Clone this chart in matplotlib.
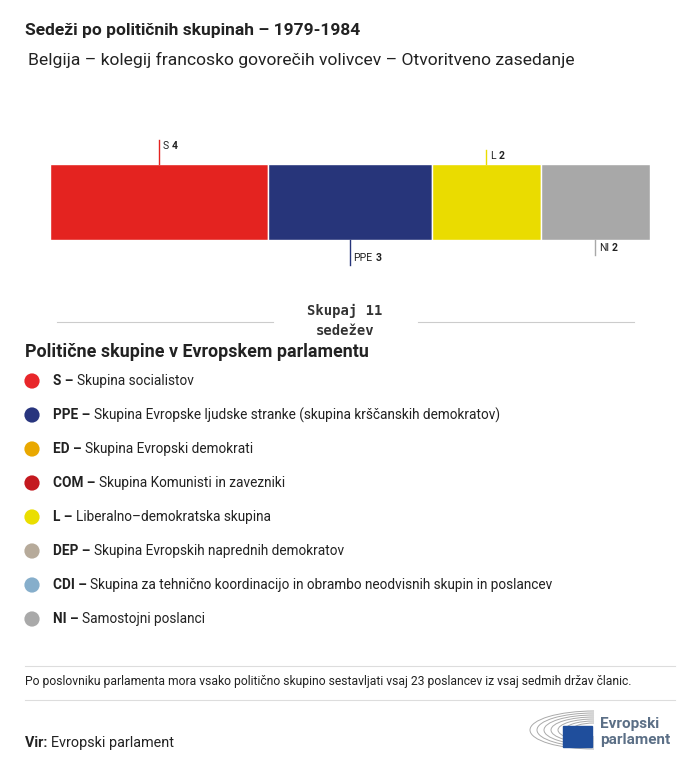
import matplotlib.pyplot as plt
from matplotlib.patches import Rectangle, Arc
import numpy as np

plt.rcParams['font.family'] = ['Roboto', 'DejaVu Sans']

# seats in the bar
groups = ['S', 'PPE', 'L', 'NI']
seats = [4, 3, 2, 2]
bar_colors = ['#E42320', '#27357A', '#EADC00', '#A8A8A8']

# legend
leg_codes = ['S', 'PPE', 'ED', 'COM', 'L', 'DEP', 'CDI', 'NI']
leg_names = ['Skupina socialistov',
             'Skupina Evropske ljudske stranke (skupina krščanskih demokratov)',
             'Skupina Evropski demokrati',
             'Skupina Komunisti in zavezniki',
             'Liberalno–demokratska skupina',
             'Skupina Evropskih naprednih demokratov',
             'Skupina za tehnično koordinacijo in obrambo neodvisnih skupin in poslancev',
             'Samostojni poslanci']
leg_colors = ['#E8262A', '#28357E', '#E9A800', '#C4191F', '#EADE00', '#B6AA9A', '#86AECB', '#A9A9A9']

W, H = 700, 768
fig = plt.figure(figsize=(7, 7.68), dpi=100)

# overlay axes in pixel coordinates for the text layout
ax0 = fig.add_axes([0, 0, 1, 1])
ax0.set_xlim(0, W)
ax0.set_ylim(H, 0)
ax0.axis('off')


def pair(ax, x, y, bold, normal, fs, col='#222222'):
    # bold part followed by normal part
    t = ax.text(x, y, bold, fontsize=fs, fontweight='bold', va='center', color=col)
    fig.canvas.draw()
    x1 = t.get_window_extent().x1
    xd = ax.transData.inverted().transform((x1, 0))[0]
    ax.text(xd, y, normal, fontsize=fs, va='center', color=col)


ax0.text(25, 30, 'Sedeži po političnih skupinah – 1979-1984', fontsize=12.5, fontweight='bold',
         va='center', color='#222222')
ax0.text(28, 60, 'Belgija – kolegij francosko govorečih volivcev – Otvoritveno zasedanje',
         fontsize=12.6, va='center', color='#222222')

# bar chart
ax = fig.add_axes([50 / W, 1 - 240 / H, 600 / W, 76 / H])
total = sum(seats)
left = np.cumsum([0] + seats[:-1])
ax.barh(0.5, seats, left=left, height=1, color=bar_colors, edgecolor='white', linewidth=1)
ax.set_xlim(0, total)
ax.set_ylim(0, 1)
ax.axis('off')

px = 1 / 76.0
lens = [24, 25, 14, 15]
for i, (g, n) in enumerate(zip(groups, seats)):
    xc = left[i] + n / 2
    L = lens[i] * px
    if i % 2 == 0:
        ax.plot([xc, xc], [1, 1 + L], color=bar_colors[i], lw=1, clip_on=False)
        ty = 1 + L - 6 * px
    else:
        ax.plot([xc, xc], [0, -L], color=bar_colors[i], lw=1, clip_on=False)
        ty = -L + 7 * px
    t = ax.text(xc + 0.06, ty, g, fontsize=7.5, va='center', ha='left', color='#222222')
    fig.canvas.draw()
    x1 = t.get_window_extent().x1 + 3
    xd = ax.transData.inverted().transform((x1, 0))[0]
    ax.text(xd, ty, str(n), fontsize=7.5, fontweight='bold', va='center', ha='left',
            color='#222222')

# total
ax0.plot([57, 273], [322, 322], color='#CCCCCC', lw=0.8)
ax0.plot([418, 634], [322, 322], color='#CCCCCC', lw=0.8)
ax0.text(345, 311, 'Skupaj 11', family='DejaVu Sans Mono', fontweight='bold', fontsize=10,
         ha='center', va='center', color='#333333')
ax0.text(345, 331, 'sedežev', family='DejaVu Sans Mono', fontweight='bold', fontsize=10,
         ha='center', va='center', color='#333333')

ax0.text(25, 352, 'Politične skupine v Evropskem parlamentu', fontsize=12.9, fontweight='bold',
         va='center', color='#222222')

y0, dy = 381, 34
for i, (c, nm, col) in enumerate(zip(leg_codes, leg_names, leg_colors)):
    y = y0 + i * dy
    ax0.scatter([32], [y], s=120, color=col, edgecolors='none')
    pair(ax0, 53, y, c + ' – ', nm, 9.85)

# footer
ax0.plot([25, 675], [666, 666], color='#DDDDDD', lw=0.8)
ax0.plot([25, 675], [700, 700], color='#DDDDDD', lw=0.8)
ax0.text(25, 682, 'Po poslovniku parlamenta mora vsako politično skupino sestavljati vsaj 23 '
         'poslancev iz vsaj sedmih držav članic.', fontsize=8.7, va='center', color='#222222')
pair(ax0, 25, 743, 'Vir: ', 'Evropski parlament', 10.4)

# logo
for k in range(7):
    rx = 22 + k * 7
    ry = 7 + k * 2
    ax0.add_patch(Arc((594, 730), 2 * rx, 2 * ry, theta1=90, theta2=270,
                      color='#AAAAAA', lw=0.7))
ax0.add_patch(Rectangle((563, 726), 29, 21, color='#1F4E9C'))
ax0.text(600, 724, 'Evropski', fontsize=11, fontweight='bold', va='center', color='#5B6F86')
ax0.text(600, 740, 'parlament', fontsize=11, fontweight='bold', va='center', color='#5B6F86')

fig.savefig('out.png', dpi=100)
